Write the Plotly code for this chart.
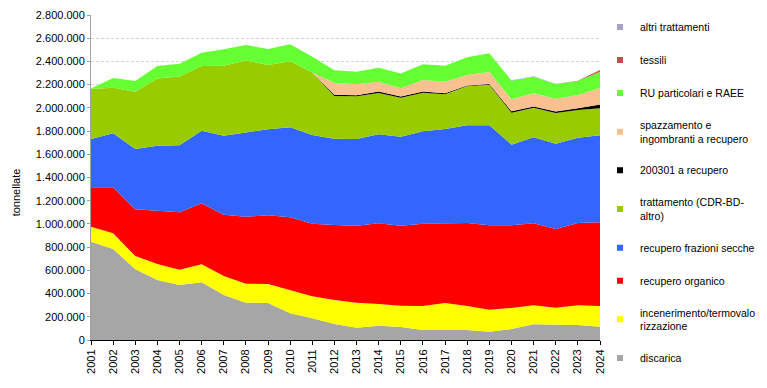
import plotly.graph_objects as go

years = list(range(2001, 2025))

# values in thousands of tonnes
discarica = [847, 784, 609, 517, 474, 497, 388, 322, 319, 230, 187, 138, 106, 123, 112, 86, 86, 86, 72, 95, 135, 129, 129, 115]
incenerimento = [129, 135, 115, 138, 132, 155, 163, 163, 163, 201, 189, 207, 216, 187, 184, 207, 233, 207, 189, 181, 164, 149, 170, 178]
organico = [339, 396, 402, 456, 494, 526, 529, 577, 592, 626, 626, 646, 663, 695, 689, 709, 689, 715, 727, 712, 706, 678, 709, 721]
secche = [417, 466, 519, 563, 577, 625, 680, 724, 741, 775, 764, 743, 747, 767, 767, 796, 810, 842, 862, 695, 741, 735, 735, 749]
trattamento = [430, 393, 494, 580, 594, 557, 603, 623, 554, 569, 539, 368, 367, 356, 335, 332, 299, 338, 350, 275, 255, 265, 238, 233]
r200301 = [0, 0, 0, 0, 0, 0, 0, 0, 0, 0, 0, 10, 10, 12, 10, 10, 8, 5, 5, 12, 10, 12, 15, 33]
spazzamento = [0, 0, 0, 0, 0, 0, 0, 0, 0, 0, 0, 105, 94, 86, 71, 100, 101, 90, 104, 104, 114, 111, 115, 142]
ru_raee = [4, 83, 92, 106, 109, 115, 141, 132, 138, 146, 136, 106, 108, 120, 129, 135, 137, 152, 161, 160, 143, 126, 120, 140]
tessili = [0, 0, 0, 0, 0, 0, 0, 0, 0, 0, 0, 0, 0, 0, 0, 0, 0, 0, 0, 0, 0, 0, 3, 15]
altri = [0, 0, 0, 0, 0, 0, 0, 0, 0, 0, 0, 0, 0, 0, 0, 0, 0, 0, 0, 3, 4, 2, 0, 0]

series = [
    ("discarica", discarica, "#A6A6A6"),
    ("incenerimento/termovalo<br>rizzazione", incenerimento, "#FFFF00"),
    ("recupero organico", organico, "#FF0000"),
    ("recupero frazioni secche", secche, "#3366FF"),
    ("trattamento (CDR-BD-<br>altro)", trattamento, "#99CC00"),
    ("200301 a recupero", r200301, "#000000"),
    ("spazzamento e<br>ingombranti a recupero", spazzamento, "#FAC090"),
    ("RU particolari e RAEE", ru_raee, "#66FF33"),
    ("tessili", tessili, "#C0504D"),
    ("altri trattamenti", altri, "#A9A0C6"),
]

fig = go.Figure()
for name, vals, col in series:
    fig.add_trace(go.Scatter(
        x=years, y=[v * 1000 for v in vals], stackgroup="one", mode="lines",
        line=dict(width=0, color=col), fillcolor=col, name=name,
        showlegend=False, hoverinfo="skip"))
# legend entries (top to bottom: reverse of stacking order)
for i, (name, vals, col) in enumerate(reversed(series)):
    fig.add_trace(go.Scatter(
        x=[None], y=[None], mode="markers", name=name,
        marker=dict(symbol="square", size=6, color=col),
        legendgroup="g%d" % i, showlegend=True))

font = "Liberation Sans, Arial, sans-serif"
# the page has an 8px body margin, so the figure is sized 759x380
fig.update_layout(
    template="none",
    width=759, height=380,
    margin=dict(l=83, r=167, t=7, b=48, autoexpand=False),
    paper_bgcolor="white", plot_bgcolor="white",
    separators=",.",
    font=dict(family=font, size=11, color="black"),
    showlegend=True,
    legend=dict(xref="container", yref="container", x=0.780, xanchor="left",
                y=0.988, yanchor="top", maxheight=380,
                traceorder="grouped", tracegroupgap=14,
                font=dict(family=font, size=10.5, color="black"),
                itemwidth=30, bgcolor="rgba(0,0,0,0)"),
    xaxis=dict(range=[2001, 2024], tickvals=years, ticktext=[str(y) for y in years],
               tickangle=-90, showgrid=False, zeroline=False, automargin=False,
               showline=True, linecolor="black", linewidth=1,
               ticks="outside", ticklen=4, tickcolor="black",
               tickfont=dict(family=font, size=11)),
    yaxis=dict(range=[0, 2800000], tickvals=list(range(0, 2800001, 200000)),
               tickformat=",d", showgrid=True, gridcolor="#D6D6D6", griddash="3px,2px",
               gridwidth=1, zeroline=False, showline=True, linecolor="#A0A0A0",
               automargin=False,
               ticks="outside", ticklen=3, tickcolor="#A0A0A0",
               tickfont=dict(family=font, size=11)),
    annotations=[dict(text="tonnellate", xref="paper", yref="paper",
                      x=-0.147, y=0.455, xanchor="center", yanchor="middle",
                      textangle=-90, showarrow=False,
                      font=dict(family=font, size=11, color="black"))],
)

fig.write_html("out.html")
